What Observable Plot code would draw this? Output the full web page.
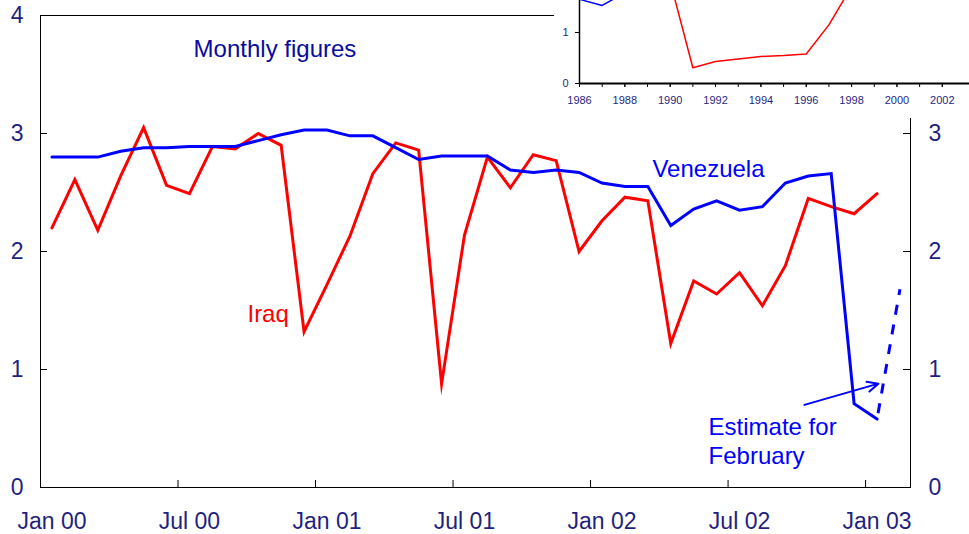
<!DOCTYPE html>
<html><head><meta charset="utf-8">
<script src="https://cdn.jsdelivr.net/npm/d3@7"></script>
<script src="https://cdn.jsdelivr.net/npm/@observablehq/plot@0.6"></script>
<style>
body{margin:0;background:#fff;}
#wrap{position:relative;width:969px;height:534px;overflow:hidden;font-family:"Liberation Sans",Arial,sans-serif;}
#main{position:absolute;left:0;top:0;}
#inset{position:absolute;left:554px;top:0;width:415px;height:118px;background:#fff;overflow:hidden;}
#inset svg{position:absolute;left:0;top:-121px;}
</style></head><body><div id="wrap"><div id="main"></div><div id="inset"></div></div>
<script>
// ---- Monthly data (million b/d) ----
const months = ["2000-01","2000-02","2000-03","2000-04","2000-05","2000-06","2000-07","2000-08","2000-09","2000-10","2000-11","2000-12",
  "2001-01","2001-02","2001-03","2001-04","2001-05","2001-06","2001-07","2001-08","2001-09","2001-10","2001-11","2001-12",
  "2002-01","2002-02","2002-03","2002-04","2002-05","2002-06","2002-07","2002-08","2002-09","2002-10","2002-11","2002-12","2003-01"];
const venezuela = [2.80,2.80,2.80,2.85,2.88,2.88,2.89,2.89,2.89,2.94,2.99,3.03,
  3.03,2.98,2.98,2.88,2.78,2.81,2.81,2.81,2.69,2.67,2.69,2.67,
  2.58,2.55,2.55,2.22,2.36,2.43,2.35,2.38,2.58,2.64,2.66,0.71,0.58];
const iraq = [2.20,2.61,2.18,2.64,3.05,2.56,2.49,2.89,2.87,3.00,2.90,1.32,
  1.72,2.13,2.66,2.92,2.86,0.88,2.14,2.80,2.54,2.82,2.77,2.00,
  2.26,2.46,2.43,1.22,1.75,1.64,1.82,1.54,1.88,2.45,2.38,2.32,2.49];
const estimateMonth = "2003-02";
const venezuelaEstimate = 1.68;

// ---- Axis ticks ----
const xTickMonths = ["2000-01","2000-07","2001-01","2001-07","2002-01","2002-07","2003-01"];
const xTickLabels = ["Jan 00","Jul 00","Jan 01","Jul 01","Jan 02","Jul 02","Jan 03"];
const yTicksLeft = [0,1,2,3,4];
const yTicksRight = [0,1,2,3];

// ---- Inset: annual data ----
const years = [1986,1987,1988,1989,1990,1991,1992,1993,1994,1995,1996,1997,1998,1999,2000,2001,2002];
const venezuelaAnnual = [1.65,1.53,1.78,1.85,2.15,2.35,2.35,2.45,2.55,2.75,3.00,3.25,3.15,2.80,2.90,2.80,2.50];
const iraqAnnual = [1.90,2.10,2.70,2.80,2.00,0.31,0.43,0.48,0.53,0.55,0.58,1.15,1.90,2.50,2.60,2.40,2.00];
const insetYearLabels = [1986,1988,1990,1992,1994,1996,1998,2000,2002];
const insetYTicks = [0,1];

// ---- Annotations ----
const labels = [
  {x: 6.68, y: 3.73, text: "Monthly figures", color: "#0a0aa0"},
  {x: 26.70, y: 2.71, text: "Venezuela", color: "#0000ff"},
  {x: 9.03, y: 1.48, text: "Iraq", color: "#ff0000"},
  {x: 29.15, y: 0.40, text: "Estimate for\nFebruary", color: "#0000ff"}
];
const arrowSpec = [{x1: 33.33, y1: 0.70, x2: 36.56, y2: 0.88}];

const NAVY = "#1f1f80";
const FONT = "Liberation Sans, Arial, sans-serif";
const mi = m => { const [y, mo] = m.split("-").map(Number); return (y - 2000) * 12 + mo - 1; };
const mid = m => mi(m) + 0.5;

const ven = months.map((m, i) => ({x: mid(m), v: venezuela[i]}));
const irq = months.map((m, i) => ({x: mid(m), v: iraq[i]}));
const est = [{x: mid(months[months.length - 1]), v: venezuela[venezuela.length - 1]},
             {x: mid(estimateMonth), v: venezuelaEstimate}];
const labelPos = xTickMonths.map(mid);
const fmt = d => String(d);

const main = Plot.plot({
  width: 969, height: 534,
  marginLeft: 40, marginRight: 59, marginTop: 15, marginBottom: 47,
  style: {fontFamily: FONT, background: "white"},
  x: {domain: [0, 37.96]},
  y: {domain: [0, 4]},
  marks: [
    Plot.frame({stroke: "black", strokeWidth: 1}),
    Plot.tickX(xTickMonths.map(mi), {x: d => d, insetTop: 465, stroke: "black"}),
    Plot.tickY(yTicksLeft, {y: d => d, insetRight: 863, stroke: "black"}),
    Plot.tickY(yTicksRight, {y: d => d, insetLeft: 863, stroke: "black"}),
    Plot.axisY(yTicksLeft, {anchor: "left", tickSize: 0, tickPadding: 17, fontSize: 23, fill: NAVY, label: null, tickFormat: fmt}),
    Plot.axisY(yTicksRight, {anchor: "right", tickSize: 0, tickPadding: 18, fontSize: 23, fill: NAVY, label: null, tickFormat: fmt}),
    Plot.axisX(labelPos, {anchor: "bottom", tickSize: 0, tickPadding: 25, fontSize: 23, fill: NAVY, label: null,
      tickFormat: d => xTickLabels[labelPos.indexOf(d)]}),
    Plot.line(irq, {x: "x", y: "v", stroke: "#ff0000", strokeWidth: 3, strokeLinejoin: "miter", strokeMiterlimit: 10}),
    Plot.line(ven, {x: "x", y: "v", stroke: "#0000ff", strokeWidth: 3, strokeLinejoin: "miter", strokeMiterlimit: 10}),
    Plot.line(est, {x: "x", y: "v", stroke: "#0000ff", strokeWidth: 3, strokeDasharray: "10,10", strokeDashoffset: -6, strokeLinecap: "butt"}),
    Plot.arrow(arrowSpec, {x1: "x1", y1: "y1", x2: "x2", y2: "y2", stroke: "#0000ff", strokeWidth: 2, headLength: 9, headAngle: 50, bend: 0}),
    Plot.text(labels, {x: "x", y: "y", text: "text", fill: d => d.color, fontSize: 24, textAnchor: "start", lineAnchor: "middle", lineHeight: 1.2})
  ]
});
document.getElementById("main").appendChild(main);

const insetPlot = Plot.plot({
  width: 415, height: 239,
  marginLeft: 25, marginRight: 0, marginTop: 0, marginBottom: 35,
  style: {fontFamily: FONT, background: "transparent"},
  x: {domain: [1986, 2003.2]},
  y: {domain: [0, 4]},
  marks: [
    Plot.line(years.map((y, i) => ({y, v: iraqAnnual[i]})), {x: "y", y: "v", stroke: "#ff0000", strokeWidth: 1.5}),
    Plot.line(years.map((y, i) => ({y, v: venezuelaAnnual[i]})), {x: "y", y: "v", stroke: "#0000ff", strokeWidth: 1.5}),
    Plot.ruleX([1986], {stroke: "black", strokeWidth: 1.5}),
    Plot.ruleY([0], {stroke: "black", strokeWidth: 2}),
    Plot.axisX(years, {tickSize: 4, tickFormat: () => "", label: null}),
    Plot.axisX(insetYearLabels, {tickSize: 4, tickPadding: 9, fontSize: 11, fill: NAVY, tickFormat: fmt, label: null}),
    Plot.axisY(insetYTicks, {tickSize: 4, tickPadding: 7, fontSize: 11, fill: NAVY, label: null, tickFormat: fmt})
  ]
});
document.getElementById("inset").appendChild(insetPlot);
</script>
</body></html>
